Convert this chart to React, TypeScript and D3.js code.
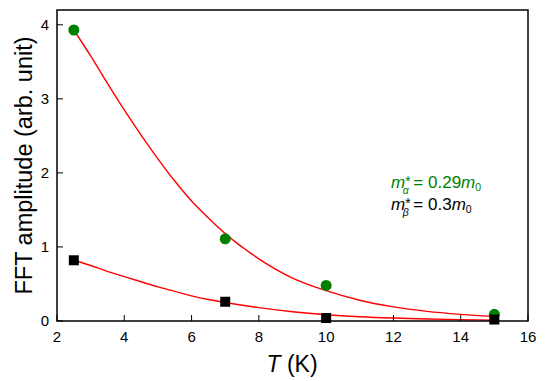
import React from 'react';
import * as d3 from 'd3';

// measured points
const temps = [2.5, 7, 10, 15];
const alphaAmp = [3.93, 1.11, 0.48, 0.09];
const betaAmp = [0.82, 0.26, 0.04, 0.02];

// fit curves
const fitT = [2.5, 3, 3.5, 4, 4.5, 5, 5.5, 6, 6.5, 7, 8, 9, 10, 11, 12, 13, 14, 15];
const alphaFit = [3.93, 3.58, 3.21, 2.85, 2.51, 2.19, 1.89, 1.62, 1.39, 1.18, 0.84, 0.58, 0.41, 0.28, 0.19, 0.13, 0.09, 0.06];
const betaFit = [0.82, 0.75, 0.67, 0.6, 0.53, 0.46, 0.4, 0.34, 0.29, 0.25, 0.18, 0.125, 0.085, 0.058, 0.04, 0.027, 0.018, 0.012];

const xTicks = [2, 4, 6, 8, 10, 12, 14, 16];
const yTicks = [0, 1, 2, 3, 4];

const W = 545, H = 381;
const margin = { top: 10, right: 17, bottom: 60, left: 57 };
const font = "'Liberation Sans', Arial, sans-serif";

export default function App() {
  const x = d3.scaleLinear().domain([2, 16]).range([margin.left, W - margin.right]);
  const y = d3.scaleLinear().domain([0, 4.2]).range([H - margin.bottom, margin.top]);

  const line = d3.line<number>()
    .x((d, i) => x(fitT[i]))
    .y(d => y(d))
    .curve(d3.curveMonotoneX);

  return (
    <svg width={W} height={H} style={{ position: 'absolute', left: 0, top: 0, fontFamily: font }}>
      <rect x={0} y={0} width={W} height={H} fill="white" />

      <path d={line(alphaFit) || ''} fill="none" stroke="#ff0000" strokeWidth={1.4} />
      <path d={line(betaFit) || ''} fill="none" stroke="#ff0000" strokeWidth={1.4} />

      {temps.map((t, i) => (
        <circle key={'a' + i} cx={x(t)} cy={y(alphaAmp[i])} r={5.5} fill="#008000" />
      ))}
      {temps.map((t, i) => (
        <rect key={'b' + i} x={x(t) - 5} y={y(betaAmp[i]) - 5} width={10} height={10} fill="#000" />
      ))}

      {/* frame */}
      <rect x={margin.left} y={margin.top} width={W - margin.left - margin.right}
        height={H - margin.top - margin.bottom} fill="none" stroke="#000" strokeWidth={1.5} />

      {xTicks.map(t => (
        <g key={'x' + t}>
          <line x1={x(t)} x2={x(t)} y1={y(0)} y2={y(0) - 6} stroke="#000" strokeWidth={1} />
          <text x={x(t)} y={342} textAnchor="middle" fontSize={15}>{t}</text>
        </g>
      ))}
      {yTicks.map(t => (
        <g key={'y' + t}>
          <line x1={x(2)} x2={x(2) + 6} y1={y(t)} y2={y(t)} stroke="#000" strokeWidth={1} />
          <text x={49} y={y(t) + 5} textAnchor="end" fontSize={15}>{t}</text>
        </g>
      ))}

      <text x={292} y={372} textAnchor="middle" fontSize={23}>
        <tspan fontStyle="italic">T</tspan> (K)
      </text>
      <text transform={`translate(32,${(y(0) + margin.top) / 2}) rotate(-90)`} textAnchor="middle" fontSize={23.5}>
        FFT amplitude (arb. unit)
      </text>

      <text x={391} y={188} fontSize={17} fill="#008000">
        <tspan fontStyle="italic">m</tspan>
        <tspan fontSize={14} dy={-2}>*</tspan>
        <tspan fontSize={10.5} fontStyle="italic" dy={8} dx={-8}>α</tspan>
        <tspan dy={-6}> = 0.29</tspan>
        <tspan fontStyle="italic">m</tspan>
        <tspan fontSize={10.5} dy={3}>0</tspan>
      </text>
      <text x={391} y={210} fontSize={17} fill="#000">
        <tspan fontStyle="italic">m</tspan>
        <tspan fontSize={14} dy={-2}>*</tspan>
        <tspan fontSize={10.5} fontStyle="italic" dy={8} dx={-8}>β</tspan>
        <tspan dy={-6}> = 0.3</tspan>
        <tspan fontStyle="italic">m</tspan>
        <tspan fontSize={10.5} dy={3}>0</tspan>
      </text>
    </svg>
  );
}
